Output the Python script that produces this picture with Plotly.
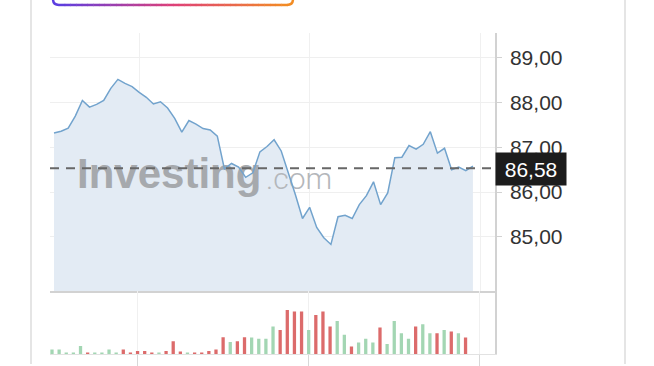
import plotly.graph_objects as go

# ---------------- data ----------------
closes = [87.32, 87.36, 87.43, 87.70, 88.05, 87.90, 87.96, 88.05, 88.32, 88.52,
          88.43, 88.36, 88.23, 88.12, 87.97, 88.02, 87.88, 87.65, 87.34, 87.60,
          87.52, 87.42, 87.39, 87.25, 86.52, 86.64, 86.56, 86.33, 86.43, 86.90,
          87.02, 87.17, 86.92, 86.45, 85.94, 85.41, 85.66, 85.21, 84.98, 84.83,
          85.45, 85.48, 85.41, 85.72, 85.92, 86.23, 85.72, 85.98, 86.77, 86.78,
          87.04, 86.96, 87.07, 87.35, 86.87, 86.98, 86.50, 86.56, 86.48, 86.58]
volumes = [4.5, 4.5, 1, 1, 8, 1, 1, 1, 4.5, 1,
           4.5, 1, 3, 3, 1, 1, 3, 13, 2.5, 1,
           1, 1, 3, 4.5, 17, 12, 13, 17, 16.7, 15.3,
           15.3, 27.7, 24.3, 44.3, 42.7, 42.7, 24.3, 39.3, 42.7, 27.7,
           33.3, 19.3, 7.7, 11.7, 15.3, 11.7, 26.7, 10, 33.3, 21,
           15.3, 27.7, 30, 21, 21, 24.3, 22.7, 21, 16.7]
ytick_vals = [85, 86, 87, 88, 89]

W, H = 654, 366
idx = list(range(len(closes)))

# ---------------- geometry helpers (pixels -> paper) ----------------
def px(xp):
    return xp / W

def py(yp):
    return 1 - yp / H

X_DOM = [px(50), px(495)]
PRICE_DOM = [py(293), py(33.5)]
VOL_DOM = [py(356), py(293)]
PRICE_RANGE = [83.78, 89.55]
X_RANGE = [-0.563, 62.11]
X2_RANGE = [-0.28, 62.13]

def data_x(xp):
    return X_RANGE[0] + (xp - 50) / (495 - 50) * (X_RANGE[1] - X_RANGE[0])

def data_y(yp):
    return PRICE_RANGE[0] + (293 - yp) / (293 - 33.5) * (PRICE_RANGE[1] - PRICE_RANGE[0])

# bar colours from price direction
GREEN, RED = "#a3d6b3", "#dc6b6b"
bar_colors = []
for i, v in enumerate(volumes):
    if i == 0 or closes[i] >= closes[i - 1]:
        bar_colors.append(GREEN)
    else:
        bar_colors.append(RED)

fig = go.Figure()

# area fill
fig.add_trace(go.Scatter(x=idx, y=closes, mode="lines", fill="tozeroy",
                         fillcolor="#e3ebf4", line=dict(width=0, color="#e3ebf4"),
                         xaxis="x", yaxis="y", hoverinfo="skip"))
# watermark (below the line)
fig.add_trace(go.Scatter(x=[data_x(77)], y=[data_y(178.5)], mode="text", text=["Investing"],
                         textposition="middle right",
                         textfont=dict(family="Liberation Sans", size=42, color="#a6a9ad", weight="bold"),
                         xaxis="x", yaxis="y", hoverinfo="skip"))
fig.add_trace(go.Scatter(x=[data_x(266)], y=[data_y(182)], mode="text", text=[".com"],
                         textposition="middle right",
                         textfont=dict(family="Roboto", size=30, color="#b4b7bb", weight=300),
                         xaxis="x", yaxis="y", hoverinfo="skip"))
# price line
fig.add_trace(go.Scatter(x=idx, y=closes, mode="lines",
                         line=dict(width=1.5, color="#72a3cd"),
                         xaxis="x", yaxis="y", hoverinfo="skip"))
# volume bars
fig.add_trace(go.Bar(x=idx[:len(volumes)], y=volumes, marker=dict(color=bar_colors, line=dict(width=0)),
                     width=0.46, xaxis="x2", yaxis="y2", hoverinfo="skip"))

shapes = []
# dashed last-price line (pixel-anchored at the last close)
shapes.append(dict(type="line", xref="paper", yref="y", x0=px(50), x1=px(495),
                   ysizemode="pixel", yanchor=closes[-1], y0=-2, y1=-2, layer="above",
                   line=dict(color="#676767", width=2, dash="9px,7px")))
# page side borders
for xp in (31, 625):
    shapes.append(dict(type="line", xref="paper", yref="paper", x0=px(xp), x1=px(xp),
                       y0=0, y1=1, line=dict(color="#dddddd", width=1.5)))

# gradient pill at the top (approximated with segments)
def lerp_color(stops, t):
    for (t0, c0), (t1, c1) in zip(stops, stops[1:]):
        if t <= t1:
            f = (t - t0) / (t1 - t0)
            return "rgb(%d,%d,%d)" % tuple(round(a + (b - a) * f) for a, b in zip(c0, c1))
    return "rgb(%d,%d,%d)" % stops[-1][1]

stops = [(0.0, (92, 62, 224)), (0.5, (222, 64, 120)), (1.0, (242, 140, 36))]
x_start, x_end, y_bot, rad = 53, 293, 5, 6
nseg = 40
for k in range(nseg):
    a = x_start + rad + (x_end - x_start - 2 * rad) * k / nseg
    b = x_start + rad + (x_end - x_start - 2 * rad) * (k + 1) / nseg
    shapes.append(dict(type="line", xref="paper", yref="paper",
                       x0=px(a), x1=px(b + 0.5), y0=py(y_bot), y1=py(y_bot),
                       line=dict(color=lerp_color(stops, (k + 0.5) / nseg), width=2.5)))
left_path = "M %f,%f L %f,%f Q %f,%f %f,%f" % (
    px(x_start), py(-5), px(x_start), py(y_bot - rad),
    px(x_start), py(y_bot), px(x_start + rad), py(y_bot))
right_path = "M %f,%f L %f,%f Q %f,%f %f,%f" % (
    px(x_end), py(-5), px(x_end), py(y_bot - rad),
    px(x_end), py(y_bot), px(x_end - rad), py(y_bot))
shapes.append(dict(type="path", xref="paper", yref="paper", path=left_path,
                   line=dict(color=lerp_color(stops, 0), width=2.5)))
shapes.append(dict(type="path", xref="paper", yref="paper", path=right_path,
                   line=dict(color=lerp_color(stops, 1), width=2.5)))

last_label = f"{closes[-1]:.2f}".replace(".", ",")

fig.update_layout(
    width=W, height=H, margin=dict(l=0, r=0, t=0, b=0),
    paper_bgcolor="white", plot_bgcolor="white",
    showlegend=False, hovermode=False, separators=", ",
    font=dict(family="Liberation Sans, Arial, sans-serif"),
    xaxis=dict(domain=X_DOM, range=X_RANGE, anchor="y", showticklabels=False,
               tick0=12, dtick=24, showgrid=True, gridcolor="#f0f0f0", gridwidth=1,
               zeroline=False, showline=True, linecolor="#d2d2d2", linewidth=1.5, ticks=""),
    yaxis=dict(domain=PRICE_DOM, range=PRICE_RANGE, anchor="x", side="right",
               tickvals=ytick_vals, tickformat=".2f", showgrid=True, gridcolor="#efefef",
               zeroline=False, showline=True, linecolor="#d2d2d2", linewidth=1.5,
               ticks="outside", ticklen=5, tickcolor="#d2d2d2", ticklabelstandoff=4,
               tickfont=dict(size=21, color="#333333")),
    xaxis2=dict(domain=X_DOM, range=X2_RANGE, anchor="y2", showticklabels=False,
                tick0=12, dtick=24, showgrid=True, gridcolor="#f0f0f0",
                zeroline=False, showline=True, linecolor="#e2e2e2", linewidth=1,
                ticks="outside", ticklen=12, tickcolor="#d8d8d8"),
    yaxis2=dict(domain=VOL_DOM, range=[0, 63], anchor="x2", side="right",
                showticklabels=False, showgrid=False, zeroline=False,
                showline=True, linecolor="#d2d2d2", linewidth=1.5, ticks=""),
    shapes=shapes,
    annotations=[dict(text=last_label, xref="paper", yref="y", x=px(495), y=closes[-1],
                      xanchor="left", yanchor="middle", yshift=-3, showarrow=False,
                      bgcolor="#1c1c1c", font=dict(color="white", size=21),
                      width=66, height=28, borderpad=2, align="center")],
)

fig.write_html("out.html")
